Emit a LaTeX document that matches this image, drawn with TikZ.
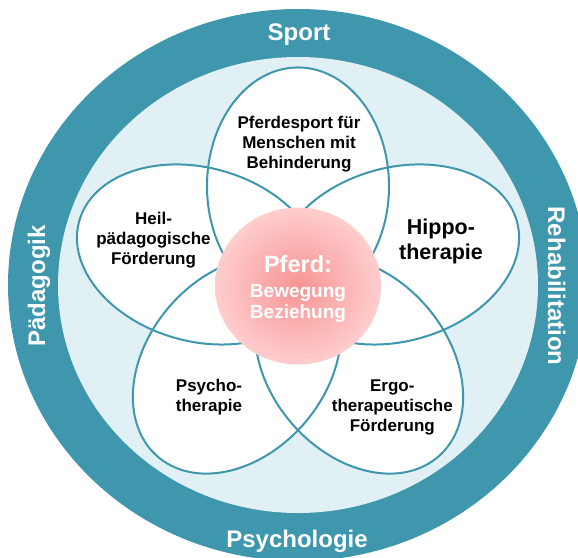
\documentclass[tikz,border=0pt]{standalone}
\usepackage{fontspec}
\setmainfont{Liberation Sans}
\usetikzlibrary{shapes.geometric}

\definecolor{ring}{RGB}{62,151,173}
\definecolor{inner}{RGB}{225,240,245}
\definecolor{pinkin}{RGB}{247,148,148}
\definecolor{pinkout}{RGB}{255,205,205}

\tikzset{
    petal/.style={draw=ring, line width=2pt},
    field/.style={text=white, anchor=base, font=\bfseries\fontsize{24}{28}\selectfont},
    area/.style={align=center, inner sep=0pt, font=\bfseries\fontsize{17}{20}\selectfont}
}

\begin{document}
\begin{tikzpicture}[x=1pt,y=-1pt]

        \useasboundingbox (0,0) rectangle (578,557);
        \clip (0,0) rectangle (578,557);

        \fill[ring] (298,285) ellipse [x radius=290, y radius=276];
        \fill[inner] (298,285) ellipse [x radius=240, y radius=228];

        \begin{scope}[shift={(298,285)}, yscale=0.95]
            \foreach \a in {90,162,234,306,18}
                \fill[white, rotate=\a] (104,0) ellipse [x radius=125, y radius=91];
            \foreach \a in {90,162,234,306,18}
                \draw[petal, rotate=\a] (104,0) ellipse [x radius=125, y radius=91];
        \end{scope}

        \node[ellipse, inner sep=0pt, minimum width=166pt, minimum height=157pt,
              inner color=pinkin, outer color=pinkout] at (298,286) (P) {};
        \node[text=white, align=center, inner sep=0pt, font=\bfseries\fontsize{19}{21}\selectfont]
              at (298,289) (T) {{\fontsize{23.5}{28}\selectfont Pferd:}\\[3.6pt] Bewegung\\ Beziehung};

        \node[area] at (299,144) (A) {Pferdesport für\\ Menschen mit\\ Behinderung};
        \node[area] at (153.5,240) (B) {Heil-\\ pädagogische\\ Förderung};
        \node[area, font=\bfseries\fontsize{21.5}{24.3}\selectfont] at (441,241.5) (C) {Hippo-\\ therapie};
        \node[area] at (209,397) (D) {Psycho-\\ therapie};
        \node[area] at (392.3,407) (E) {Ergo-\\ therapeutische\\ Förderung};

        \node[field] at (299,40) (S) {Sport};
        \node[field] at (297,547) (Y) {Psychologie};
        \node[field, rotate=90] at (45,286) (G) {Pädagogik};
        \node[field, rotate=-90] at (548,286) (R) {Rehabilitation};

\end{tikzpicture}
\end{document}
